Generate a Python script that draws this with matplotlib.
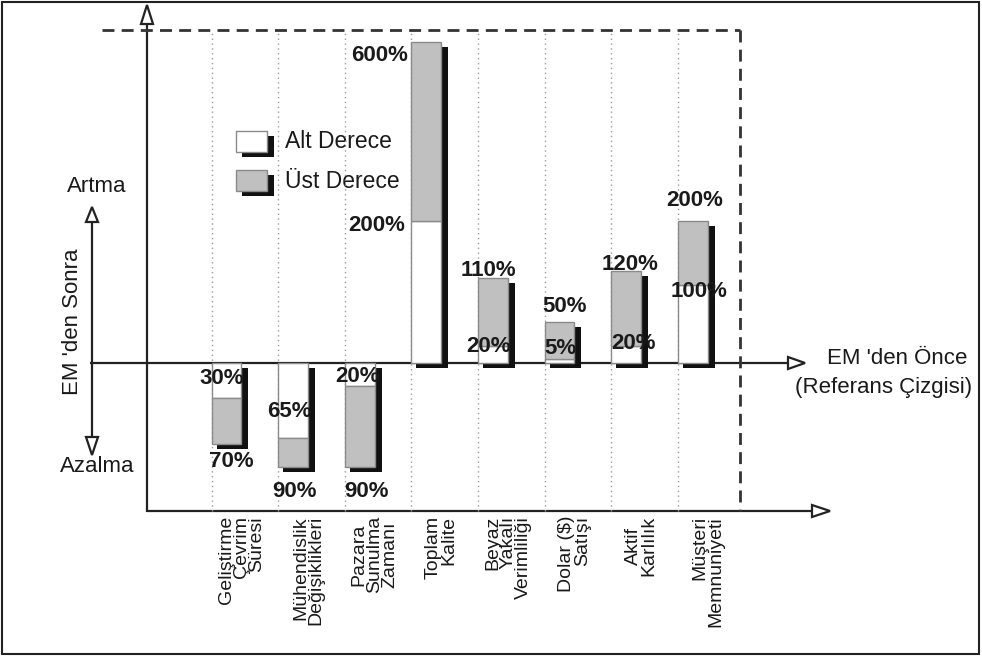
import numpy as np
import matplotlib
matplotlib.use("Agg")
import matplotlib.pyplot as plt
from matplotlib.patches import Rectangle, Polygon
from matplotlib.transforms import ScaledTranslation

plt.rcParams['font.family'] = ['Liberation Sans', 'DejaVu Sans']

# EM öncesi / sonrası değişim (%), negatif = azalma
categories = [
    "Geliştirme\nÇevrim\nSüresi",
    "Mühendislik\nDeğişiklikleri",
    "Pazara\nSunulma\nZamanı",
    "Toplam\nKalite",
    "Beyaz\nYakalı\nVerimliliği",
    "Dolar ($)\nSatışı",
    "Aktif\nKarlılık",
    "Müşteri\nMemnuniyeti",
]
alt_derece = [-30, -65, -20, 200, 20, 5, 20, 100]
ust_derece = [-70, -90, -90, 600, 110, 50, 120, 200]

# label offsets in pixels from (bar centre, value)
alt_offsets = [(-5, 19), (-4, 26), (-2, 10), (-50, -4), (-4, -1), (1, 10), (7, 2), (6, -7)]
ust_offsets = [(5, -18), (1, -25), (7, -25), (-47, -13), (-4, 7), (5, 15), (4, 7), (2, 21)]
label_align = ['right', 'right', 'center', 'right', 'right', 'right', 'center', 'right']

LINE = '#222222'
GREY = '#c0c0c0'
EDGE = '#8a8a8a'

# compressed value axis: log-like above the reference line, linear below
C_POS, K_POS, C_NEG = 350.0, 400.0, 1.15


def fwd(v):
    v = np.asarray(v, float)
    return np.where(v >= 0, C_POS * np.log1p(np.maximum(v, 0) / K_POS), C_NEG * v)


def inv(u):
    u = np.asarray(u, float)
    return np.where(u >= 0, K_POS * np.expm1(np.maximum(u, 0) / C_POS), u / C_NEG)


W, H = 982, 657
fig = plt.figure(figsize=(W / 100, H / 100), dpi=100)

# background layer in pixel units for the frame, axes arrows and notes
bg = fig.add_axes([0, 0, 1, 1])
bg.set_xlim(0, W)
bg.set_ylim(H, 0)
bg.axis('off')

bg.add_patch(Rectangle((2, 2), W - 5, H - 5, fill=False, ec=LINE, lw=1.5))


def open_arrow(x0, y0, x1, y1, head_len=17, half_w=6):
    d = np.array([x1 - x0, y1 - y0], float)
    d /= np.hypot(*d)
    n = np.array([-d[1], d[0]])
    tip = np.array([x1, y1], float)
    base = tip - d * head_len
    bg.plot([x0, base[0]], [y0, base[1]], color=LINE, lw=1.6, solid_capstyle='butt')
    bg.add_patch(Polygon([tip, base + n * half_w, base - n * half_w], closed=True,
                         fc='white', ec=LINE, lw=1.6, joinstyle='miter'))


open_arrow(147, 512, 147, 5, head_len=19)
open_arrow(147, 511, 830, 511, head_len=18)
open_arrow(90, 363, 805, 363, head_len=17)
open_arrow(92, 330, 92, 207, head_len=15)
open_arrow(92, 330, 92, 455, head_len=18)

dash = (0, (4.3, 2.6))
bg.plot([102, 740], [30, 30], ls=dash, lw=2, color='#333333')
bg.plot([740, 740], [30, 511], ls=dash, lw=2, color='#333333')

note = dict(fontsize=16, color='#1a1a1a')
bg.text(97, 187, "Artma", ha='center', va='center', **note)
bg.text(97, 467, "Azalma", ha='center', va='center', **note)
bg.text(73, 322, "EM 'den Sonra", ha='center', va='center', rotation=90, **note)
bg.text(897, 358, "EM 'den Önce", ha='center', va='center', **note)
bg.text(884, 388, "(Referans Çizgisi)", ha='center', va='center', **note)

# legend swatches with drop shadow
for y, fc, label in [(131, 'white', "Alt Derece"), (170, GREY, "Üst Derece")]:
    bg.add_patch(Rectangle((242, y + 5), 32, 21, fc='#111111', ec='none'))
    bg.add_patch(Rectangle((236, y), 31, 21, fc=fc, ec=EDGE, lw=1))
    bg.text(285, y + 11, label, ha='left', va='center', fontsize=16.5, color='#1a1a1a')

# bar layer
ax = fig.add_axes([0, 0, 1, 1])
ax.patch.set_alpha(0)
ax.axis('off')
ax.set_yscale('function', functions=(fwd, inv))
x_step, x0 = 66.6, 226.5
ax.set_xlim(-x0 / x_step, (W - x0) / x_step)
ax.set_ylim(inv(-(H - 363)), inv(363))

x = np.arange(len(categories))
bar_w = 0.45

ax.vlines(x - bar_w / 2, 1 - 511 / H, 1 - 32 / H, transform=ax.get_xaxis_transform(),
          colors='#9a9a9a', linestyles=(0, (1, 2.5)), lw=1, zorder=0)

shadow = ax.transData + ScaledTranslation(0.05, -0.05, fig.dpi_scale_trans)
ax.bar(x - bar_w / 2, ust_derece, width=0.48, align='edge', color='#111111',
       transform=shadow, zorder=1)
ax.bar(x, alt_derece, width=bar_w, color='white', edgecolor=EDGE, lw=1, zorder=2)
ax.bar(x, np.subtract(ust_derece, alt_derece), bottom=alt_derece, width=bar_w,
       color=GREY, edgecolor=EDGE, lw=1, zorder=2)

lab = dict(fontsize=16, fontweight='bold', color='#1a1a1a', ha='center', va='center',
           textcoords='offset pixels', zorder=3)
for i in x:
    for v, off in [(alt_derece[i], alt_offsets[i]), (ust_derece[i], ust_offsets[i])]:
        ax.annotate(f"{abs(v)}%", xy=(i, v), xytext=off, **lab)

for i, name in enumerate(categories):
    ax.text(i + 15 / x_step, 1 - 516 / H, name, transform=ax.get_xaxis_transform(),
            rotation=90, ha='center', va='top', multialignment=label_align[i],
            fontsize=14, linespacing=0.88, color='#1a1a1a')

fig.savefig('out.png', dpi=100)
